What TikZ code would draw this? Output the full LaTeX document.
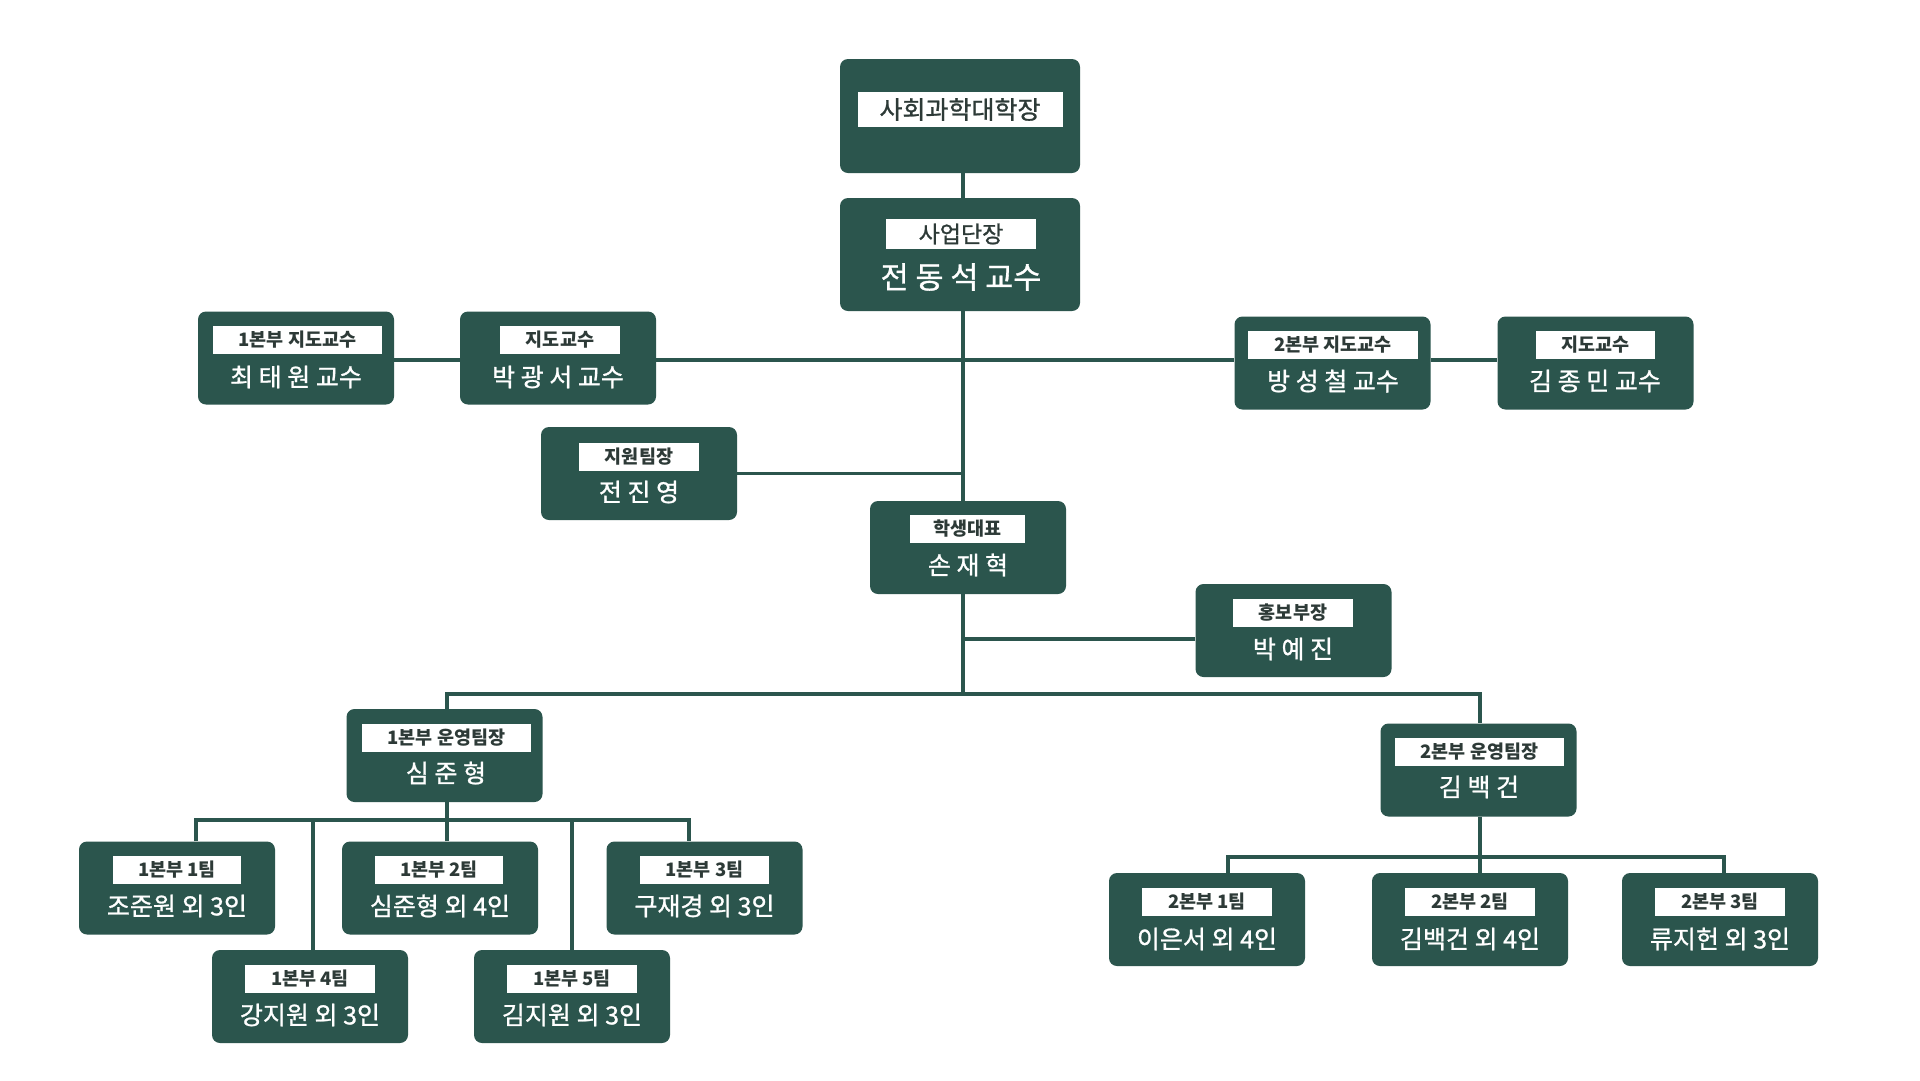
\documentclass[tikz,border=0pt]{standalone}
\usepackage{fontspec}
\newfontfamily\kr{Noto Sans CJK KR}
\newfontfamily\krm[FakeBold=1.0]{Noto Sans CJK KR}
\definecolor{dk}{RGB}{43,85,77}
\definecolor{lt}{RGB}{45,58,55}
\begin{document}
\begin{tikzpicture}[x=1pt,y=-1pt,
 box/.style={fill=dk, rounded corners=8pt, inner sep=0pt, minimum width=196pt, minimum height=93pt},
 lab/.style={fill=white, inner sep=0pt, minimum height=28pt, text=lt, font=\kr\bfseries\fontsize{18.5}{19}\selectfont},
 nm/.style={text=white, inner sep=0pt, font=\krm\fontsize{25}{26}\selectfont},
 conn/.style={draw=dk, line width=3.5pt}]
\useasboundingbox[fill=white] (0,0) rectangle (1920,1080);
% top
\node[box, minimum width=240pt, minimum height=114pt] (dean) at (960,116) {};
\node[lab, minimum width=205pt, minimum height=35pt, font=\krm\fontsize{25}{25}\selectfont] (deanL) at (960,109.5) {사회과학대학장};
\node[box, minimum width=240pt, minimum height=113pt] (dir) at (960,254.5) {};
\node[lab, minimum width=150pt, minimum height=30pt, font=\krm\fontsize{23}{23}\selectfont] (dirL) at (961,234) {사업단장};
\node[nm, font=\krm\fontsize{30.5}{31}\selectfont] (dirN) at (961,277) {전 동 석 교수};
% professors
\node[box] (p1) at (296,358) {};
\node[lab, minimum width=169pt] (p1L) at (297.5,340) {1본부 지도교수};
\node[nm] (p1N) at (296,377) {최 태 원 교수};
\node[box] (p2) at (558,358) {};
\node[lab, minimum width=120pt] (p2L) at (560,340) {지도교수};
\node[nm] (p2N) at (558,377) {박 광 서 교수};
\node[box] (p3) at (1332.5,363) {};
\node[lab, minimum width=170pt] (p3L) at (1333,345) {2본부 지도교수};
\node[nm] (p3N) at (1333,381) {방 성 철 교수};
\node[box] (p4) at (1595.5,363) {};
\node[lab, minimum width=119pt] (p4L) at (1595.5,345) {지도교수};
\node[nm] (p4N) at (1595,381) {김 종 민 교수};
% support, student, pr
\node[box] (sup) at (639,473.5) {};
\node[lab, minimum width=120pt] (supL) at (639,456.5) {지원팀장};
\node[nm] (supN) at (639,492) {전 진 영};
\node[box] (stu) at (968,547.5) {};
\node[lab, minimum width=115pt] (stuL) at (967.5,529) {학생대표};
\node[nm] (stuN) at (968,565) {손 재 혁};
\node[box] (pr) at (1293.5,630.5) {};
\node[lab, minimum width=120pt] (prL) at (1293,612.5) {홍보부장};
\node[nm] (prN) at (1293,649) {박 예 진};
% managers
\node[box] (m1) at (444.5,755.5) {};
\node[lab, minimum width=169pt] (m1L) at (446.5,737.5) {1본부 운영팀장};
\node[nm] (m1N) at (446,773) {심 준 형};
\node[box] (m2) at (1478.5,770) {};
\node[lab, minimum width=169pt] (m2L) at (1479.5,751.5) {2본부 운영팀장};
\node[nm] (m2N) at (1479,787) {김 백 건};
% teams 1
\node[box] (a1) at (177,888) {};
\node[lab, minimum width=128pt] (a1L) at (177,869.5) {1본부 1팀};
\node[nm] (a1N) at (177,906) {조준원 외 3인};
\node[box] (a2) at (440,888) {};
\node[lab, minimum width=128pt] (a2L) at (439,869.5) {1본부 2팀};
\node[nm] (a2N) at (440,906) {심준형 외 4인};
\node[box] (a3) at (704.5,888) {};
\node[lab, minimum width=129pt] (a3L) at (704.5,870) {1본부 3팀};
\node[nm] (a3N) at (704.5,906) {구재경 외 3인};
\node[box] (a4) at (310,996.5) {};
\node[lab, minimum width=130pt] (a4L) at (310,978.5) {1본부 4팀};
\node[nm] (a4N) at (310,1015) {강지원 외 3인};
\node[box] (a5) at (572,996.5) {};
\node[lab, minimum width=130pt] (a5L) at (572,978.5) {1본부 5팀};
\node[nm] (a5N) at (572,1015) {김지원 외 3인};
% teams 2
\node[box] (b1) at (1207,919.5) {};
\node[lab, minimum width=130pt] (b1L) at (1207,902) {2본부 1팀};
\node[nm] (b1N) at (1207,939) {이은서 외 4인};
\node[box] (b2) at (1470,919.5) {};
\node[lab, minimum width=130pt] (b2L) at (1470,902) {2본부 2팀};
\node[nm] (b2N) at (1470,939) {김백건 외 4인};
\node[box] (b3) at (1720,919.5) {};
\node[lab, minimum width=130pt] (b3L) at (1720,902) {2본부 3팀};
\node[nm] (b3N) at (1720,939) {류지헌 외 3인};
% connectors
\coordinate (sp) at (963,0);
\coordinate (h1) at (0,360);
\coordinate (h2) at (0,639);
\coordinate (bl) at (447,694);
\coordinate (bm) at (963,694);
\coordinate (br) at (1480,694);
\coordinate (ta) at (196,820);
\coordinate (tb) at (313,820);
\coordinate (tc) at (447,820);
\coordinate (td) at (572,820);
\coordinate (te) at (689,820);
\coordinate (ua) at (1228,857);
\coordinate (ub) at (1480,857);
\coordinate (uc) at (1724,857);
\draw[conn] (dean.south -| sp) -- (dir.north -| sp);
\draw[conn] (dir.south -| sp) -- (stu.north -| sp);
\draw[conn] (stu.south -| sp) -- (bm);
\draw[conn] (p1.east |- h1) -- (p2.west |- h1);
\draw[conn] (p2.east |- h1) -- (p3.west |- h1);
\draw[conn] (p3.east |- h1) -- (p4.west |- h1);
\draw[conn] (sup.east) -- (sup.east -| sp);
\draw[conn] (pr.west |- h2) -- (sp |- h2);
\draw[conn] (m1.north -| bl) -- (bl) -- (br) -- (m2.north -| br);
\draw[conn] (m1.south -| tc) -- (tc);
\draw[conn] (a1.north -| ta) -- (ta) -- (te) -- (a3.north -| te);
\draw[conn] (a2.north -| tc) -- (tc);
\draw[conn] (a4.north -| tb) -- (tb);
\draw[conn] (a5.north -| td) -- (td);
\draw[conn] (m2.south -| ub) -- (ub);
\draw[conn] (b1.north -| ua) -- (ua) -- (uc) -- (b3.north -| uc);
\draw[conn] (b2.north -| ub) -- (ub);
\end{tikzpicture}
\end{document}
